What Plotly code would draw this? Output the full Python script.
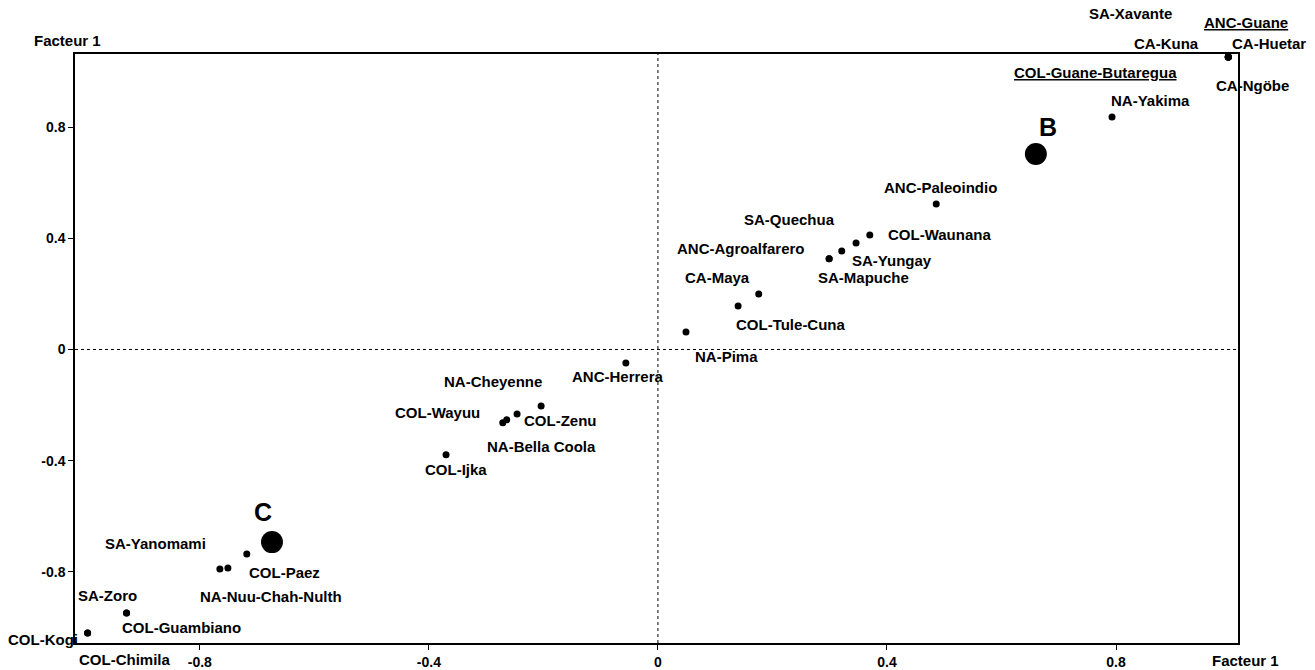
import plotly.graph_objects as go

# ---- data ----
pop_names = [
    "SA-Xavante", "ANC-Guane", "CA-Kuna", "CA-Huetar", "COL-Guane-Butaregua", "CA-Ngöbe",
    "NA-Yakima", "ANC-Paleoindio", "COL-Waunana", "SA-Quechua", "SA-Yungay",
    "SA-Mapuche", "ANC-Agroalfarero", "CA-Maya", "COL-Tule-Cuna", "NA-Pima",
    "ANC-Herrera", "COL-Zenu", "NA-Cheyenne", "COL-Wayuu", "NA-Bella Coola",
    "COL-Ijka", "SA-Yanomami", "COL-Paez", "NA-Nuu-Chah-Nulth", "SA-Zoro",
    "COL-Guambiano", "COL-Kogi", "COL-Chimila",
]
pop_x = [0.996, 0.996, 0.996, 0.996, 0.996, 0.996,
         0.793, 0.486, 0.370, 0.346, 0.321,
         0.299, 0.299, 0.176, 0.140, 0.049,
         -0.056, -0.204, -0.246, -0.264, -0.271,
         -0.370, -0.718, -0.751, -0.765, -0.928,
         -0.928, -0.996, -0.996]
pop_y = [1.052, 1.052, 1.052, 1.052, 1.052, 1.052,
         0.836, 0.523, 0.412, 0.383, 0.354,
         0.326, 0.326, 0.200, 0.156, 0.063,
         -0.049, -0.203, -0.232, -0.253, -0.264,
         -0.379, -0.736, -0.786, -0.790, -0.948,
         -0.948, -1.020, -1.020]
underlined = ["ANC-Guane", "COL-Guane-Butaregua"]

group_names = ["B", "C"]
group_x = [0.660, -0.674]
group_y = [0.703, -0.693]

tick_vals = [-0.8, -0.4, 0, 0.4, 0.8]
tick_text = ["-0.8", "-0.4", "0", "0.4", "0.8"]
axis_title = "Facteur 1"

# ---- label placement (pixel offsets from the point: dx right, dy down) ----
label_offsets = {
    "SA-Xavante": (-98, -44), "ANC-Guane": (18, -35), "CA-Kuna": (-62, -14),
    "CA-Huetar": (41, -14), "COL-Guane-Butaregua": (-133, 15), "CA-Ngöbe": (24, 28),
    "NA-Yakima": (38, -17), "ANC-Paleoindio": (4, -17), "COL-Waunana": (70, 0),
    "SA-Quechua": (-67, -24), "SA-Yungay": (50, 9), "SA-Mapuche": (34, 19),
    "ANC-Agroalfarero": (-88, -10), "CA-Maya": (-41, -16), "COL-Tule-Cuna": (53, 18),
    "NA-Pima": (41, 25), "ANC-Herrera": (-8, 13), "COL-Zenu": (19, 15),
    "NA-Cheyenne": (-24, -32), "COL-Wayuu": (-69, -7), "NA-Bella Coola": (39, 24),
    "COL-Ijka": (10, 15), "SA-Yanomami": (-91, -11), "COL-Paez": (57, 5),
    "NA-Nuu-Chah-Nulth": (51, 27), "SA-Zoro": (-19, -17), "COL-Guambiano": (55, 15),
    "COL-Kogi": (-45, 7), "COL-Chimila": (37, 27),
}
group_offsets = {"B": (12, -27), "C": (-9, -30)}

FONT = "Liberation Sans, Arial, sans-serif"
lab_font = dict(family=FONT, size=15, color="black", weight="bold")

fig = go.Figure()
fig.add_trace(go.Scatter(x=pop_x, y=pop_y, mode="markers",
                         marker=dict(color="black", size=7), hoverinfo="text",
                         text=pop_names, showlegend=False, cliponaxis=False))
fig.add_trace(go.Scatter(x=group_x, y=group_y, mode="markers",
                         marker=dict(color="black", size=22), hoverinfo="text",
                         text=group_names, showlegend=False))

for n, x, y in zip(pop_names, pop_x, pop_y):
    dx, dy = label_offsets[n]
    t = f"<u>{n}</u>" if n in underlined else n
    fig.add_annotation(x=x, y=y, text=t, showarrow=False, xshift=dx, yshift=-dy,
                       xanchor="center", yanchor="middle", font=lab_font)
for n, x, y in zip(group_names, group_x, group_y):
    dx, dy = group_offsets[n]
    fig.add_annotation(x=x, y=y, text=n, showarrow=False, xshift=dx, yshift=-dy,
                       xanchor="center", yanchor="middle",
                       font=dict(family=FONT, size=25, color="black", weight="bold"))

# axis titles
fig.add_annotation(xref="paper", yref="paper", x=0, y=1, text=axis_title, showarrow=False,
                   xanchor="center", yanchor="middle", xshift=-8, yshift=14,
                   font=dict(family=FONT, size=15, color="black", weight="bold"))
fig.add_annotation(xref="paper", yref="paper", x=1, y=0, text=axis_title, showarrow=False,
                   xanchor="center", yanchor="middle", xshift=7, yshift=-17,
                   font=dict(family=FONT, size=15, color="black", weight="bold"))

# dashed zero lines
fig.add_shape(type="line", xref="x", yref="y domain", x0=0, x1=0, y0=0, y1=1,
              line=dict(color="black", width=1, dash="dot"))
fig.add_shape(type="line", xref="x domain", yref="y", x0=0, x1=1, y0=0, y1=0,
              line=dict(color="black", width=1, dash="dot"))

axis_common = dict(showgrid=False, zeroline=False, showline=True, linecolor="black",
                   linewidth=1.5, mirror=True, ticks="outside", ticklen=5,
                   tickcolor="black", tickwidth=1.2, automargin=False,
                   tickfont=dict(family=FONT, size=14, color="black", weight="bold"),
                   tickmode="array", tickvals=tick_vals, ticktext=tick_text)

fig.update_layout(
    width=1315, height=670,
    margin=dict(l=75, r=77, t=54, b=27),
    paper_bgcolor="white", plot_bgcolor="white",
    xaxis=dict(range=[-1.018, 1.013], ticklabelstandoff=0, **axis_common),
    yaxis=dict(range=[-1.056, 1.063], **axis_common),
    showlegend=False,
)

fig.write_html("out.html", config={"displayModeBar": False},
               post_script="document.body.style.margin='0px';")
